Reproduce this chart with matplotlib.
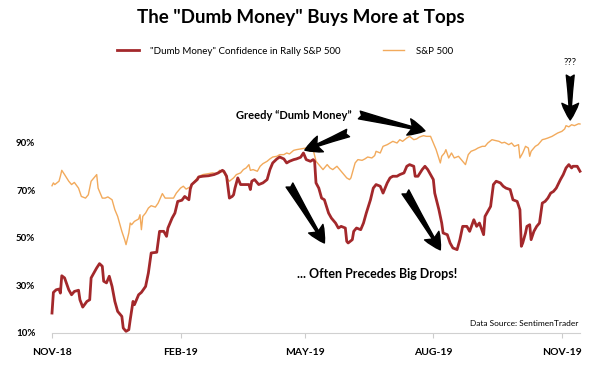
import numpy as np
import matplotlib
matplotlib.use("Agg")
import matplotlib.pyplot as plt

plt.rcParams["font.family"] = ["Lato", "DejaVu Sans"]

# ====== DATA (x = days after 2018-11-01) ======
start = np.datetime64("2018-11-01")

dm_day = [0, 1, 3, 5, 6, 7, 9, 12, 14, 16, 19, 20, 22, 25, 27, 28, 32, 34, 36, 37,
          39, 41, 43, 45, 47, 50, 51, 53, 55, 56, 58, 59, 62, 64, 67, 69, 71, 75, 77, 80,
          82, 83, 86, 88, 90, 93, 95, 98, 99, 100, 104, 105, 108, 112, 116, 119, 122, 123, 125, 127,
          129, 130, 131, 133, 135, 137, 141, 142, 143, 145, 148, 151, 154, 156, 158, 161, 163, 166, 168, 170,
          173, 175, 178, 180, 182, 185, 187, 188, 189, 191, 193, 195, 198, 200, 203, 205, 207, 210, 211, 212,
          215, 216, 218, 221, 223, 225, 228, 230, 232, 235, 237, 240, 242, 244, 247, 249, 252, 254, 256, 259,
          260, 262, 265, 267, 269, 271, 273, 274, 277, 279, 280, 283, 285, 287, 290, 292, 294, 297, 299, 302,
          304, 306, 309, 310, 314, 316, 318, 321, 323, 325, 328, 330, 333, 335, 336, 337, 339, 340, 342, 343,
          345, 347, 349, 351, 353, 355, 357, 359, 361, 364, 366, 368, 370, 372, 373, 376, 378]
dm_val = [18.4, 27.1, 28.2, 28.5, 26.8, 34.1, 33.2, 28.2, 26.1, 27.5, 28.0, 24.0, 20.9, 23.3, 24.0, 33.2, 37.4, 39.2, 38.1, 31.8,
          31.1, 33.9, 29.6, 23.3, 19.1, 17.0, 12.1, 10.7, 11.4, 15.6, 23.3, 21.9, 26.1, 27.1, 29.6, 35.3, 43.7, 44.0, 52.8, 52.8,
          50.7, 54.2, 58.4, 60.5, 65.4, 65.9, 67.5, 66.1, 70.6, 72.5, 74.6, 75.7, 76.0, 76.2, 76.7, 77.4, 78.5, 78.1, 76.0, 66.8,
          67.5, 68.2, 71.0, 75.3, 72.5, 72.5, 72.5, 70.4, 73.9, 74.6, 72.5, 73.2, 74.6, 78.8, 81.6, 83.3, 84.1, 83.3, 81.6, 82.3,
          83.0, 83.3, 84.0, 85.8, 83.0, 82.3, 83.0, 82.3, 73.2, 71.0, 66.8, 66.1, 60.5, 58.4, 56.3, 54.2, 54.9, 54.2, 48.6, 47.9,
          49.3, 52.8, 54.2, 53.5, 56.3, 60.5, 66.1, 71.0, 72.5, 71.8, 68.9, 73.2, 75.3, 76.0, 76.0, 76.7, 77.4, 80.2, 80.9, 80.2,
          76.0, 76.0, 78.8, 80.2, 78.8, 76.7, 74.6, 68.9, 61.9, 56.3, 52.1, 51.4, 47.9, 45.8, 45.1, 49.3, 54.9, 54.9, 52.8, 57.7,
          54.9, 56.3, 51.4, 59.1, 63.3, 72.5, 73.9, 73.2, 71.8, 71.0, 70.4, 66.1, 65.4, 61.9, 46.5, 47.9, 52.1, 54.9, 55.6, 49.3,
          52.8, 54.9, 56.3, 64.7, 65.4, 66.8, 68.9, 69.6, 71.0, 74.6, 76.7, 79.5, 80.9, 79.5, 80.2, 80.2, 78.1]

spx_day = [0, 1, 2, 5, 6, 7, 9, 12, 14, 16, 19, 21, 24, 26, 28, 31, 32, 33, 36, 38,
           40, 43, 45, 47, 50, 52, 53, 55, 56, 57, 59, 62, 63, 64, 65, 67, 69, 71, 74, 76,
           79, 81, 83, 87, 89, 92, 94, 96, 99, 101, 104, 106, 108, 112, 115, 118, 120, 123, 125, 127,
           130, 132, 135, 137, 139, 141, 142, 144, 147, 149, 151, 154, 156, 158, 161, 163, 166, 168, 170, 173,
           175, 178, 182, 185, 187, 189, 192, 194, 197, 199, 201, 204, 206, 209, 211, 213, 214, 217, 219, 222,
           224, 226, 229, 231, 232, 235, 237, 240, 242, 244, 247, 249, 251, 254, 256, 259, 261, 263, 266, 268,
           271, 273, 275, 278, 279, 281, 282, 284, 286, 288, 291, 293, 296, 298, 300, 303, 305, 308, 310, 312,
           315, 317, 320, 322, 324, 327, 329, 331, 334, 335, 337, 339, 341, 342, 343, 346, 348, 351, 353, 355,
           358, 360, 362, 365, 367, 368, 370, 372, 374, 377, 378]
spx_val = [72.0, 73.2, 72.5, 73.9, 76.0, 78.5, 76.7, 73.9, 72.5, 73.4, 71.0, 67.5, 66.8, 68.2, 73.9, 76.0, 76.7, 71.0, 66.8, 66.8,
           67.3, 66.1, 61.9, 59.1, 52.8, 49.3, 47.2, 52.1, 56.3, 55.6, 57.0, 58.0, 59.8, 53.5, 59.1, 60.5, 62.6, 63.6, 63.0, 64.7,
           68.7, 66.8, 66.8, 66.8, 68.9, 71.0, 71.8, 70.6, 71.5, 73.2, 75.3, 76.2, 76.7, 77.1, 77.4, 77.1, 78.5, 77.6, 75.3, 73.9,
           75.3, 76.7, 77.4, 78.8, 79.5, 80.9, 78.5, 78.8, 78.1, 80.2, 81.3, 82.3, 83.3, 84.1, 84.4, 85.1, 85.1, 85.8, 85.4, 86.9,
           87.2, 87.5, 87.9, 86.5, 87.2, 82.3, 80.2, 78.8, 80.9, 79.5, 78.8, 80.2, 78.8, 76.7, 75.3, 74.6, 75.3, 81.6, 83.0, 82.7,
           83.3, 84.1, 83.7, 84.7, 86.5, 85.8, 88.6, 89.3, 90.0, 90.7, 90.0, 91.4, 90.7, 92.1, 92.8, 91.4, 91.7, 92.5, 93.1, 92.8,
           92.8, 90.0, 87.2, 81.6, 84.4, 85.8, 87.2, 83.7, 85.8, 83.7, 84.4, 83.0, 80.9, 85.1, 86.5, 87.2, 87.9, 88.6, 88.6, 90.0,
           91.4, 91.1, 90.7, 90.0, 90.3, 89.3, 90.0, 88.6, 89.3, 83.7, 85.8, 88.6, 87.9, 84.4, 86.5, 88.6, 89.3, 91.4, 91.7, 92.1,
           92.8, 93.5, 94.2, 94.9, 95.9, 97.3, 96.8, 97.7, 97.3, 98.1, 98.0]

tick_dates = ["2018-11-01", "2019-02-01", "2019-05-01", "2019-08-01", "2019-11-01"]
tick_labels = ["NOV-18", "FEB-19", "MAY-19", "AUG-19", "NOV-19"]
y_ticks = [10, 30, 50, 70, 90]

RED = "#a3282b"
ORANGE = "#f2aa5c"


def d(days):
    return start + np.array(days, dtype="timedelta64[D]")


# ====== PLOT ======
fig = plt.figure(figsize=(6, 3.72), dpi=100)
ax = fig.add_axes([52 / 600, 39 / 372, 528 / 600, 0.5746])

ax.plot(d(spx_day), spx_val, color=ORANGE, lw=1.0, label="S&P 500", clip_on=False)
ax.plot(d(dm_day), dm_val, color=RED, lw=2.0,
        label='"Dumb Money" Confidence in Rally S&P 500', clip_on=False)

ax.set_xlim(start, start + np.timedelta64(378, "D"))
ax.set_ylim(10, 100)

ax.set_yticks(y_ticks)
ax.set_yticklabels([f"{v}%" for v in y_ticks], fontsize=7, fontweight="bold")
ax.tick_params(axis="y", length=0, pad=12)

ax.set_xticks([np.datetime64(t) for t in tick_dates])
ax.set_xticklabels(tick_labels, fontsize=7.5, fontweight="bold")
ax.tick_params(axis="x", length=3.6, color="#cccccc", pad=7)

for s in ["top", "right", "left"]:
    ax.spines[s].set_visible(False)
ax.spines["bottom"].set_color("#d0d0d0")

# legend (red first)
h, l = ax.get_legend_handles_labels()
fig.legend(h[::-1], l[::-1], loc="center", bbox_to_anchor=(0.475, 1 - 51 / 372), ncol=2,
           frameon=False, fontsize=7, handlelength=2.2, columnspacing=4.3, handletextpad=1.2)

fig.text(0.502, 1 - 18 / 372, 'The "Dumb Money" Buys More at Tops', ha="center", va="center",
         fontsize=13.5, fontweight="bold")

# ====== ANNOTATIONS ======
arrow = dict(arrowstyle="fancy,head_length=0.8,head_width=0.8,tail_width=0.38",
             color="black", shrinkA=0, shrinkB=0, mutation_scale=15)

ax.text(d(173), 101.4, "Greedy \u201cDumb Money\u201d", ha="center", va="center",
        fontsize=8, fontweight="bold", clip_on=False)
ax.annotate("", xy=(d(181), 87.0), xytext=(d(212), 94.2), arrowprops=arrow, annotation_clip=False)
ax.annotate("", xy=(d(267), 95.1), xytext=(d(220), 101.8), arrowprops=arrow, annotation_clip=False)
ax.annotate("", xy=(d(195), 47.9), xytext=(d(170), 72.3), arrowprops=arrow, annotation_clip=False)
ax.annotate("", xy=(d(278), 45.0), xytext=(d(253), 69.4), arrowprops=arrow, annotation_clip=False)
ax.annotate("", xy=(d(371), 99.7), xytext=(d(371), 118.6), arrowprops=arrow, annotation_clip=False)

ax.text(d(371), 123.7, "???", ha="center", va="center", fontsize=7, clip_on=False)
ax.text(d(233), 34.8, "... Often Precedes Big Drops!", ha="center", va="center",
        fontsize=9, fontweight="bold")
ax.text(d(377), 13.8, "Data Source: SentimenTrader", ha="right", va="center", fontsize=6)

plt.savefig("out.png", dpi=100)
plt.close()
